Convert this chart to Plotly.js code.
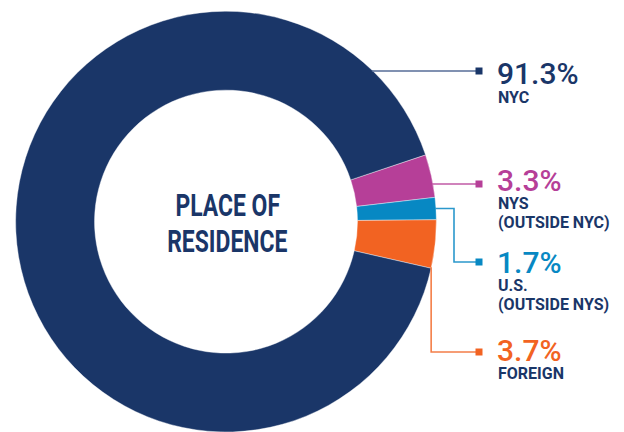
<!DOCTYPE html>
<html>
<head>
<meta charset="utf-8">
<script src="https://cdn.plot.ly/plotly-3.0.1.min.js"></script>
<style>
html,body{margin:0;padding:0;background:#fff;}
#chart{width:624px;height:432px;}
.condensed-title text.annotation-text{transform-box:fill-box;transform-origin:center;transform:scaleX(0.74);}
</style>
</head>
<body>
<div id="chart"></div>
<script>
// ---- data ----
const categories = ['NYS', 'U.S.', 'FOREIGN', 'NYC'];
const subLabels = ['(OUTSIDE NYC)', '(OUTSIDE NYS)', '', ''];
const shares = [3.3, 1.7, 3.7, 91.3];
const sliceColors = ['#b63f98', '#0788c3', '#f26322', '#1a3668'];
const leaderColors = ['#c15aa6', '#2b98cc', '#f47e48', '#566d97'];
const centerTitle = ['PLACE OF', 'RESIDENCE'];

// ---- layout constants (pixels) ----
const W = 624, H = 432;
const dom = {x: [0.025, 0.6994], y: [0, 0.974]};
const startAngle = 71.5;           // degrees clockwise from 12 o'clock
const squareX = 479, squareSize = 7, textX = 496;
// per category: leader row y, percent text center y, label line center ys, leader style
const rows = [
  {rowY: 184, pctY: 180, lineYs: [203, 222.5], style: 'straight'},
  {rowY: 262, pctY: 262, lineYs: [285.5, 304], style: 'elbow', elbowX: 454},
  {rowY: 352, pctY: 350, lineYs: [373], style: 'down'},
  {rowY: 71,  pctY: 73.5, lineYs: [97.5], style: 'straight'}
];

const navy = '#1a3668';
const px = x => x / W;
const py = y => 1 - y / H;

// pie geometry in pixels (same as library's domain sizing)
const cx = (dom.x[0] + dom.x[1]) / 2 * W;
const cy = H - (dom.y[0] + dom.y[1]) / 2 * H;
const R = Math.min((dom.x[1] - dom.x[0]) * W, (dom.y[1] - dom.y[0]) * H) / 2;
const total = shares.reduce((a, b) => a + b, 0);
const pt = deg => {
  const t = deg * Math.PI / 180;
  return [cx + R * Math.sin(t), cy - R * Math.cos(t)];
};

const shapes = [];
const annotations = [];
let acc = startAngle;
shares.forEach((v, i) => {
  const a0 = acc, a1 = acc + v / total * 360;
  acc = a1;
  const r = rows[i];
  const col = leaderColors[i];
  let path;
  if (r.style === 'straight') {
    const x0 = cx + Math.sqrt(Math.max(0, R * R - (r.rowY - cy) ** 2)) - 1;
    path = [[x0, r.rowY], [squareX, r.rowY]];
  } else if (r.style === 'elbow') {
    const p = pt((a0 + a1) / 2);
    path = [[p[0] - 1, p[1]], [r.elbowX, p[1]], [r.elbowX, r.rowY], [squareX, r.rowY]];
  } else {
    const p = pt(a1);
    path = [[p[0], p[1] - 1], [p[0], r.rowY], [squareX, r.rowY]];
  }
  shapes.push({
    type: 'path', xref: 'paper', yref: 'paper',
    path: path.map((q, k) => (k ? 'L' : 'M') + px(q[0]) + ',' + py(q[1])).join(' '),
    line: {color: col, width: 1.6}
  });
  shapes.push({
    type: 'rect', xref: 'paper', yref: 'paper',
    x0: px(squareX - squareSize / 2), x1: px(squareX + squareSize / 2),
    y0: py(r.rowY + squareSize / 2), y1: py(r.rowY - squareSize / 2),
    fillcolor: sliceColors[i], line: {width: 0}
  });
  annotations.push({
    xref: 'paper', yref: 'paper', x: px(textX), y: py(r.pctY),
    xanchor: 'left', yanchor: 'middle', showarrow: false, borderpad: 0,
    text: v.toFixed(1) + '%',
    font: {family: 'Roboto, Arial, sans-serif', size: 30, color: sliceColors[i], weight: 500}
  });
  const lines = [categories[i]].concat(subLabels[i] ? [subLabels[i]] : []);
  lines.forEach((t, k) => {
    annotations.push({
      xref: 'paper', yref: 'paper', x: px(textX + 1), y: py(r.lineYs[k]),
      xanchor: 'left', yanchor: 'middle', showarrow: false, borderpad: 0,
      text: t,
      font: {family: 'Roboto, Arial, sans-serif', size: 16, color: navy, weight: 700}
    });
  });
});

const centerYs = [205.5, 241];
const firstCenter = annotations.length;
centerTitle.forEach((t, k) => {
  annotations.push({
    xref: 'paper', yref: 'paper', x: px(cx + 1), y: py(centerYs[k]),
    xanchor: 'center', yanchor: 'middle', showarrow: false, borderpad: 0,
    text: t,
    font: {family: 'Roboto, Arial, sans-serif', size: 31, color: navy, weight: 700}
  });
});

const trace = {
  type: 'pie',
  labels: categories,
  values: shares,
  hole: 0.625,
  sort: false,
  direction: 'clockwise',
  rotation: startAngle,
  textinfo: 'none',
  hoverinfo: 'label+percent',
  marker: {colors: sliceColors, line: {color: '#ffffff', width: 0.4}},
  domain: dom,
  showlegend: false
};

Plotly.newPlot('chart', [trace], {
  width: W, height: H,
  margin: {l: 0, r: 0, t: 0, b: 0},
  paper_bgcolor: '#ffffff',
  showlegend: false,
  shapes: shapes,
  annotations: annotations
}, {displayModeBar: false, staticPlot: true}).then(gd => {
  for (let k = firstCenter; k < annotations.length; k++) {
    const g = gd.querySelector('.annotation[data-index="' + k + '"]');
    if (g) g.classList.add('condensed-title');
  }
});
</script>
</body>
</html>
